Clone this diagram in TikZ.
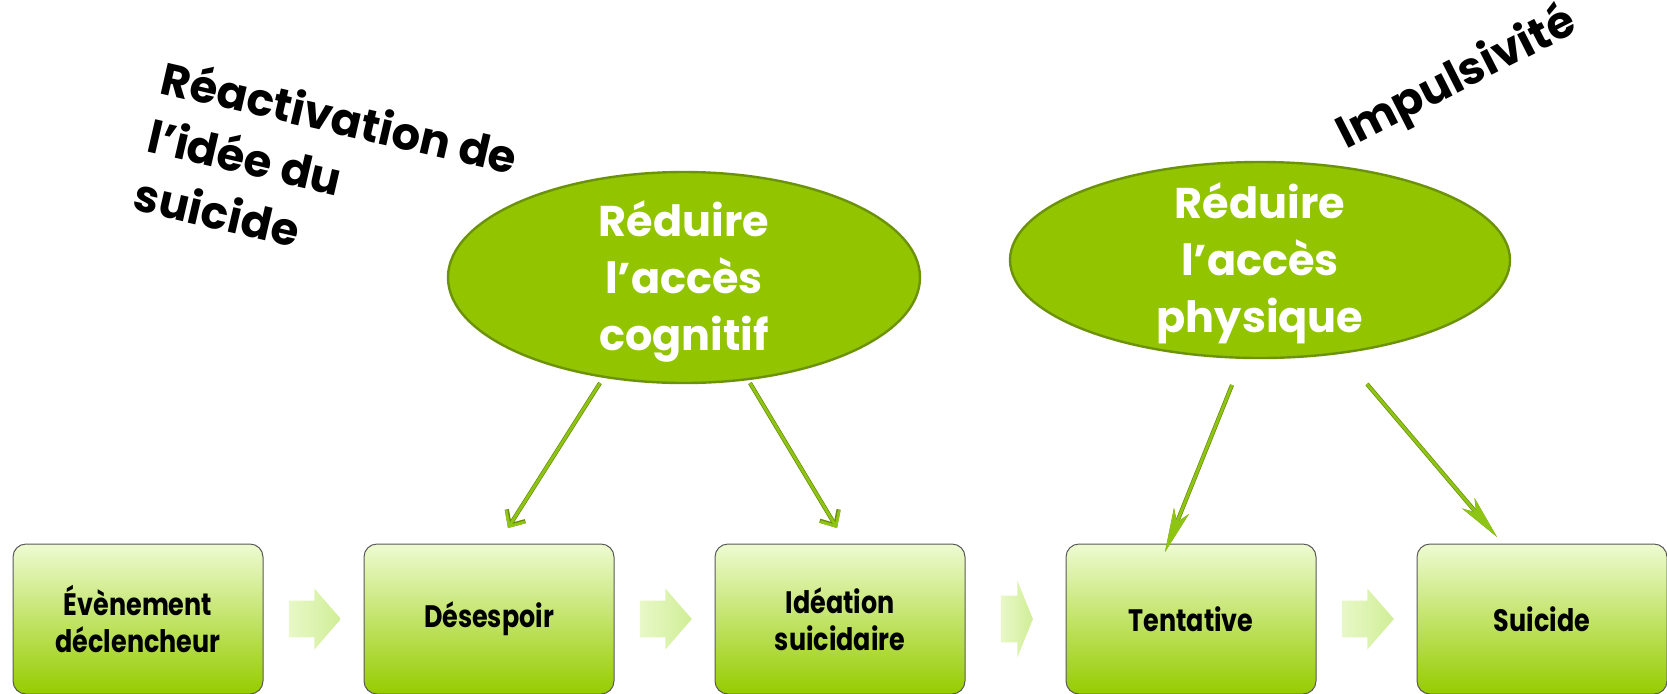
\documentclass[tikz,border=0pt]{standalone}
\usepackage{fontspec}
\setmainfont{Poppins}
\newfontfamily\narrowfont{Poppins}[FakeStretch=0.82]
\usepackage{tikz}
\usetikzlibrary{arrows.meta, positioning, shapes.geometric, shapes.arrows}

\definecolor{boxtop}{RGB}{238,251,210}
\definecolor{boxmid}{RGB}{205,240,120}
\definecolor{boxbot}{RGB}{150,204,0}
\definecolor{ellfill}{RGB}{146,196,0}
\definecolor{elldraw}{RGB}{108,146,10}
\definecolor{ptrgreen}{RGB}{142,196,20}
\definecolor{ptrdark}{RGB}{105,140,10}
\definecolor{chevl}{RGB}{232,248,200}
\definecolor{chevr}{RGB}{208,238,150}

\begin{document}
\begin{tikzpicture}[x=0.5pt, y=-0.5pt,
        block/.style={rectangle, draw=gray!70!black, line width=0.5pt, rounded corners=6.5pt, top color=boxtop, middle color=boxmid, bottom color=boxbot, minimum width=125pt, minimum height=75pt, align=center, font=\narrowfont\bfseries\fontsize{15.5}{18.5}\selectfont},
        bubble/.style={ellipse, draw=elldraw, line width=1.2pt, fill=ellfill, inner sep=0pt},
        bubbletext/.style={text=white, align=center, inner sep=0pt, font=\bfseries\fontsize{21.5}{28.5}\selectfont},
        chev/.style={single arrow, left color=chevl, right color=chevr, inner xsep=1pt, inner ysep=9pt, single arrow head extend=6pt, single arrow tip angle=98, minimum height=26pt},
        note/.style={inner sep=0pt, align=left, font=\bfseries\fontsize{22.5}{30}\selectfont},
        ptr/.style={draw=ptrgreen, line width=1.4pt, preaction={draw=ptrdark, line width=2.1pt}, -{Straight Barb[length=6pt, width=11pt]}},
        spear/.style={draw=ptrgreen, line width=1.4pt, preaction={draw=ptrdark, line width=2.1pt}, -{Stealth[length=22pt, width=8pt, inset=6pt]}}]
        \useasboundingbox (0,0) rectangle (1667,693);

        % chain of steps
        \node (ev) [block] at (138,619) {Évènement\\déclencheur};
        \node (desesp) [block, right=50pt of ev] {Désespoir};
        \node (ideat) [block, right=50pt of desesp] {Idéation\\suicidaire};
        \node (tent) [block, right=50pt of ideat] {Tentative};
        \node (suic) [block, right=50pt of tent] {Suicide};

        \node (c1) [chev, right=12.5pt of ev] {};
        \node (c2) [chev, right=12.5pt of desesp] {};
        \node (c3) [chev, right=17.5pt of ideat, inner ysep=11.5pt, single arrow head extend=7.5pt, single arrow tip angle=136, minimum height=16pt] {};
        \node (c4) [chev, right=12.5pt of tent] {};

        % levers
        \node (cog) [bubble, minimum width=236pt, minimum height=105.5pt] at (684,277.5) {};
        \node (cogtxt) [bubbletext] at (684,281.5) {Réduire\\l’accès\\cognitif};
        \node (phys) [bubble, minimum width=250pt, minimum height=98pt] at (1260,260) {};
        \node (phystxt) [bubbletext] at (1260,263.5) {Réduire\\l’accès\\physique};

        \node (react) [note, rotate=-13, anchor=north west] at (167,56) {Réactivation de\\l’idée du\\suicide};
        \node (impuls) [note, rotate=27] at (1457,79) {Impulsivité};

        \coordinate (a1) at (600,383); \coordinate (e1) at (508,528);
        \coordinate (a2) at (750,383); \coordinate (e2) at (837,528);
        \coordinate (a3) at (1232,385); \coordinate (e3) at (1165,552);
        \coordinate (a4) at (1367,384); \coordinate (e4) at (1497,537);

        \draw[ptr] (a1) -- (e1);
        \draw[ptr] (a2) -- (e2);
        \draw[spear] (a3) -- (e3);
        \draw[spear] (a4) -- (e4);
    \end{tikzpicture}
\end{document}
